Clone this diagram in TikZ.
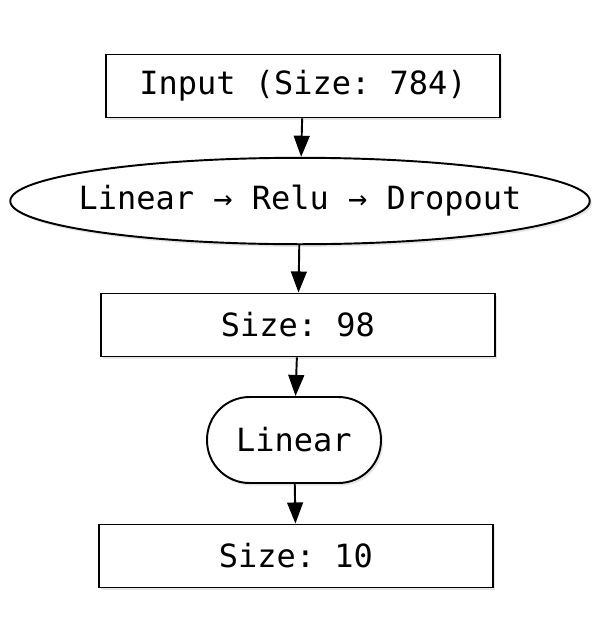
\documentclass[tikz,border=0pt]{standalone}
\usepackage{fontspec}
\setmonofont{DejaVu Sans Mono}
\usetikzlibrary{shapes.geometric,arrows.meta,shadows}

\begin{document}
\begin{tikzpicture}[x=0.02cm, y=-0.02cm,
    layerbox/.style={draw, line width=1.1pt, fill=white, minimum width=7.88cm, minimum height=1.26cm,
        drop shadow={opacity=0.2, shadow xshift=1.2pt, shadow yshift=-1.5pt}},
    flow/.style={-{Triangle[length=12pt, width=9pt]}, line width=1.1pt},
    every node/.style={font=\ttfamily\fontsize{18.2}{21}\selectfont, inner sep=0pt}]

% canvas
\useasboundingbox (0, 0) rectangle (600, 640);

% layers
\node[layerbox] (input) at (303, 86) {Input (Size: 784)};
\node[draw, line width=1.1pt, fill=white, ellipse, inner xsep=-0.33cm, inner ysep=0.3cm,
    minimum width=11.54cm, minimum height=1.7cm,
    drop shadow={opacity=0.2, shadow xshift=1.2pt, shadow yshift=-1.5pt}]
    (hidden) at (300, 201) {Linear → Relu → Dropout};
\node[layerbox] (size98) at (298, 325) {Size: 98};
\node[draw, line width=1.1pt, fill=white, rounded corners=0.85cm, minimum width=3.48cm, minimum height=1.72cm,
    drop shadow={opacity=0.2, shadow xshift=1.2pt, shadow yshift=-1.5pt}]
    (linear) at (294, 440) {Linear};
\node[layerbox] (output) at (296, 556) {Size: 10};

% connectors
\draw[flow] (input) -- (hidden);
\draw[flow] (hidden) -- (size98);
\draw[flow] (size98) -- (linear);
\draw[flow] (linear) -- (output);

\end{tikzpicture}
\end{document}
